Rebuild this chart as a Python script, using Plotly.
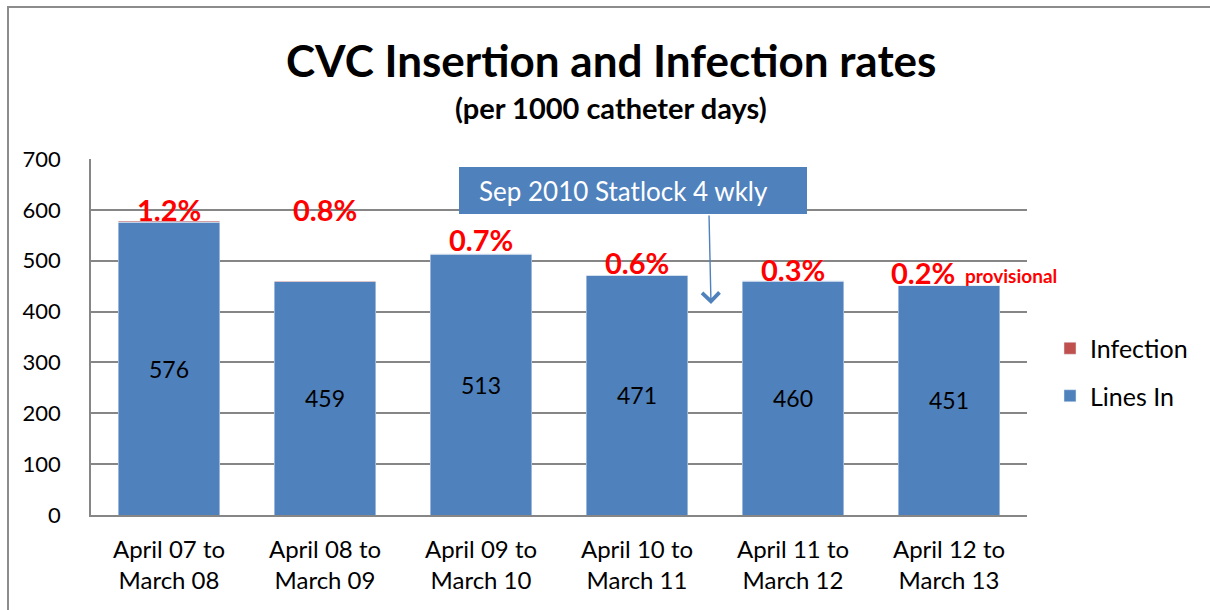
import plotly.graph_objects as go

categories = ["April 07 to<br>March 08", "April 08 to<br>March 09", "April 09 to<br>March 10",
              "April 10 to<br>March 11", "April 11 to<br>March 12", "April 12 to<br>March 13"]
lines_in = [576, 459, 513, 471, 460, 451]
infection = [1.2, 0.8, 0.7, 0.6, 0.3, 0.2]
rate_labels = ["1.2%", "0.8%", "0.7%", "0.6%", "0.3%", "0.2%"]

# layout helpers (label placement, in axis units)
label_y = [600, 600, 541, 497, 482, 476]
label_x_shift = [0, 0, 0, 0, 0, -26]

FONT = "Lato, Carlito, Calibri, sans-serif"
BLUE = "#4F81BD"
RED_BAR = "#C0504D"

L, R, T, B = 91, 183, 159, 95
W, H = 1210, 610
pw, ph = W - L - R, H - T - B

def px(xp):
    return (xp - L) / pw

def py(yp):
    return (H - B - yp) / ph

def dx(xp):
    return (xp - L) / (pw / 6) - 0.5

def dy(yp):
    return (H - B - yp) / ph * 700

fig = go.Figure()
fig.add_trace(go.Bar(
    x=categories, y=lines_in, name="Lines In", marker_color=BLUE,
    text=[str(v) for v in lines_in], textposition="inside", insidetextanchor="middle",
    textfont=dict(size=23, color="black", family=FONT), width=0.65,
    legendgroup="a", legendrank=2))
fig.add_trace(go.Bar(
    x=categories, y=infection, name="Infection", marker_color=RED_BAR, width=0.65,
    legendgroup="b", legendrank=1, textposition="none"))

annotations = []
annotations.append(dict(text="<b>CVC Insertion and Infection rates</b>", xref="paper", yref="paper",
                        x=px(611), y=py(60), showarrow=False, xanchor="center", yanchor="middle",
                        font=dict(size=44, color="black", family=FONT)))
annotations.append(dict(text="<b>(per 1000 catheter days)</b>", xref="paper", yref="paper",
                        x=px(611), y=py(107), showarrow=False, xanchor="center", yanchor="middle",
                        font=dict(size=29, color="black", family=FONT)))
for i, (lab, ly) in enumerate(zip(rate_labels, label_y)):
    annotations.append(dict(text="<b>" + lab + "</b>", x=i, y=ly, xref="x", yref="y",
                            showarrow=False, xanchor="center", yanchor="middle",
                            xshift=label_x_shift[i],
                            font=dict(size=29, color="#FF0000", family=FONT)))
annotations.append(dict(text="<b>provisional</b>", x=5, y=476, xref="x", yref="y",
                        showarrow=False, xanchor="left", yanchor="middle", xshift=14, yshift=-3,
                        font=dict(size=19, color="#FF0000", family=FONT)))
# arrow
annotations.append(dict(text="", x=dx(711), y=dy(304), ax=dx(709), ay=dy(214), xref="x", yref="y",
                        axref="x", ayref="y", showarrow=True, arrowhead=4, arrowsize=2.4,
                        arrowwidth=1.4, arrowcolor=BLUE))
# callout text
annotations.append(dict(text="Sep 2010 Statlock 4 wkly", x=dx(477), y=dy(191), xref="x", yref="y",
                        showarrow=False, xanchor="left", yanchor="middle",
                        font=dict(size=26, color="white", family=FONT)))

frame_path = "M {x0},{yb} L {x0},{yt} L {xr},{yt}".format(
    x0=px(8), yb=py(640), yt=py(7), xr=px(1260))
shapes = [
    dict(type="path", xref="paper", yref="paper", path=frame_path,
         line=dict(color="#8C8C8C", width=2), layer="below"),
    dict(type="rect", xref="x", yref="y", x0=dx(459), x1=dx(807), y0=dy(214), y1=dy(167),
         line=dict(width=0), fillcolor=BLUE, layer="above"),
]

fig.update_layout(
    width=W, height=H, barmode="stack",
    margin=dict(l=L, r=R, t=T, b=B, autoexpand=False),
    paper_bgcolor="white", plot_bgcolor="white",
    font=dict(family=FONT, size=20, color="black"),
    showlegend=True,
    legend=dict(x=px(1050), y=py(372), xanchor="left", yanchor="middle",
                traceorder="grouped", tracegroupgap=12,
                font=dict(size=25, family=FONT, color="black"),
                bgcolor="rgba(0,0,0,0)", itemwidth=30),
    annotations=annotations, shapes=shapes,
)
fig.update_yaxes(range=[0, 700], dtick=100, showgrid=True, gridcolor="#868686", gridwidth=1.5,
                 showline=True, linecolor="#868686", linewidth=1.5, ticks="",
                 tickfont=dict(size=22, family=FONT, color="black"), ticklabelstandoff=24,
                 zeroline=False)
fig.update_xaxes(range=[-0.5, 5.5], autorange=False, showline=True, linecolor="#868686",
                 linewidth=1.5, ticks="", showgrid=False,
                 tickfont=dict(size=24, family=FONT, color="black"), ticklabelstandoff=12)

fig.write_html("out.html", config={"displayModeBar": False},
               post_script=("document.documentElement.style.overflow='hidden';"
                            "document.body.style.margin='0';document.body.style.overflow='hidden';"))
